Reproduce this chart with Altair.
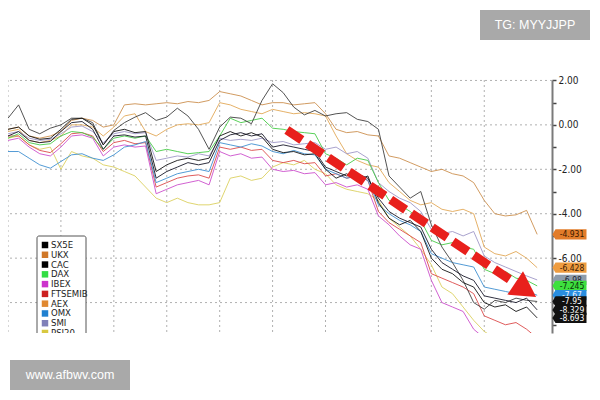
import altair as alt
import pandas as pd

# time index (one vertical grid line every 10 steps)
t_index = list(range(0, 101, 2))

SX5E = [-0.5, -0.3, -0.7, -0.8, -0.75, -0.3, 0.1, 0.15, -0.2, -1.1,
        -0.5, -0.45, -0.55, -0.5, -2.4, -2.1, -1.9, -1.7, -1.8, -1.7,
        -0.7, -0.45, -0.35, -0.5, -0.4, -1.0, -0.9, -1.0, -1.1, -1.2,
        -1.9, -2.1, -2.3, -2.2, -2.4, -3.3, -3.9, -4.2, -4.4, -4.6,
        -5.6, -6.2, -6.5, -6.8, -7.0, -7.7, -7.8, -7.9, -8.0, -7.8, -8.33]
CAC = [-0.2, -0.1, -0.5, -0.65, -0.6, -0.2, 0.25, 0.3, 0.0, -0.9,
       -0.3, -0.2, -0.35, -0.3, -2.1, -1.8, -1.6, -1.5, -1.6, -1.5,
       -0.5, -0.3, -0.5, -0.35, -0.55, -1.1, -1.25, -1.2, -1.35, -1.3,
       -2.0, -2.4, -2.2, -2.5, -2.3, -3.5, -4.2, -4.5, -4.3, -4.8,
       -6.0, -6.5, -6.7, -7.1, -7.3, -8.0, -8.2, -8.1, -8.4, -8.2, -8.69]
ATX = [0.3, 0.9, -0.2, -0.4, -0.15, 0.0, 0.3, 0.3, 0.1, -0.9,
       -0.25, 0.1, 0.35, 0.55, 0.2, 0.35, 0.75, 0.4, -0.2, -1.1,
       -0.1, 0.35, 0.3, 0.05, 1.1, 1.85, 1.45, 0.8, 0.45, 0.65,
       0.4, 0.5, 0.55, 0.25, 0.15, -0.2, -2.3, -2.8, -3.3, -3.0,
       -4.5, -5.5, -6.2, -7.0, -8.0, -8.3, -7.9, -8.0, -7.8, -7.9, -7.95]
DAX = [-0.6, -0.4, -0.8, -0.9, -0.85, -0.5, -0.3, -0.35, -0.55, -1.1,
       -0.6, -0.5, -0.6, -0.5, -1.2, -1.1, -1.2, -1.3, -1.25, -1.2,
       -0.5, 0.3, 0.1, 0.2, 0.3, -0.15, -0.2, -0.3, -0.35, -0.4,
       -1.3, -1.5, -1.8, -1.5, -1.6, -2.6, -3.4, -3.6, -3.9, -4.3,
       -5.2, -5.4, -5.3, -5.5, -5.6, -6.5, -6.7, -6.6, -6.9, -7.0, -7.25]
OMX = [-1.2, -1.2, -1.5, -1.8, -1.95, -1.65, -1.35, -1.3, -1.5, -1.6,
       -1.35, -1.0, -0.9, -0.75, -2.6, -2.4, -2.2, -2.1, -2.0, -2.1,
       -0.8, -0.9, -1.0, -0.85, -0.95, -1.2, -1.3, -1.15, -1.3, -1.35,
       -2.0, -2.2, -2.4, -2.3, -2.5, -3.6, -4.0, -4.3, -4.5, -4.8,
       -5.8, -6.0, -6.2, -6.3, -6.4, -7.3, -7.4, -7.5, -7.6, -7.5, -7.67]
IBEX = [-0.7, -0.6, -1.0, -1.3, -1.4, -1.0, -0.5, -0.45, -0.6, -1.4,
        -1.0, -0.9, -1.0, -0.95, -3.1, -2.9, -2.7, -2.6, -2.5, -2.7,
        -1.2, -1.4, -1.3, -1.5, -1.45, -2.0, -2.1, -2.05, -2.2, -2.15,
        -2.7, -2.6, -2.8, -2.7, -2.9, -4.1, -4.5, -5.0, -5.4, -5.6,
        -7.0, -8.0, -8.2, -8.4, -9.2, -9.6, -9.5, -9.7, -9.4, -9.6, -9.9]
FTSEMIB = [-0.5, -0.5, -0.9, -1.15, -1.25, -0.85, -0.4, -0.35, -0.5, -1.2,
           -0.8, -0.7, -0.85, -0.8, -2.8, -2.6, -2.4, -2.3, -2.25, -2.4,
           -1.0, -1.1, -1.0, -1.15, -1.1, -1.6, -1.7, -1.6, -1.75, -1.7,
           -2.3, -2.2, -2.4, -2.3, -2.5, -3.9, -4.4, -4.7, -5.0, -5.3,
           -6.7, -6.9, -7.1, -7.3, -7.6, -8.6, -8.8, -9.0, -8.9, -9.2, -9.6]
SMI = [-0.4, -0.3, -0.6, -0.7, -0.65, -0.4, -0.1, -0.05, -0.3, -0.8,
       -0.4, -0.3, -0.4, -0.35, -1.6, -1.5, -1.4, -1.45, -1.3, -1.4,
       -0.6, -0.7, -0.65, -0.7, -0.6, -0.8, -0.75, -0.9, -0.85, -0.8,
       -1.1, -1.0, -1.3, -1.2, -1.5, -2.6, -3.0, -3.3, -3.5, -3.9,
       -4.7, -4.9, -4.8, -5.0, -4.8, -5.9, -6.2, -6.4, -6.6, -6.8, -6.98]
PSI20 = [-0.6, -0.5, -0.9, -1.1, -1.0, -2.0, -1.2, -1.4, -1.5, -1.8,
         -1.9, -2.1, -2.3, -2.8, -3.3, -3.5, -3.3, -3.5, -3.6, -3.6,
         -3.5, -2.4, -2.3, -2.5, -2.4, -1.9, -1.7, -1.8, -1.6, -2.0,
         -2.2, -2.7, -2.9, -3.0, -3.1, -3.4, -4.2, -4.6, -5.0, -5.6,
         -6.3, -7.3, -7.6, -8.2, -8.8, -9.3, -9.6, -9.8, -9.7, -9.9, -10.1]
UKX = [-0.2, -0.1, -0.5, -0.6, -0.5, -0.3, 0.2, 0.3, 0.2, -0.1,
       0.0, 0.9, 0.95, 0.9, 0.95, 1.0, 0.95, 1.05, 1.0, 1.1,
       1.5, 1.4, 1.3, 1.1, 0.9, 1.0, 1.0, 0.9, 0.95, 1.0,
       0.5, -0.2, -0.35, -0.3, -0.45, -0.5, -1.4, -1.5, -1.7, -1.9,
       -2.1, -2.0, -2.2, -2.3, -2.6, -3.4, -4.0, -4.1, -4.05, -3.85, -4.93]
AEX = [-0.3, -0.2, -0.7, -0.8, -0.7, -0.5, 0.0, 0.0, -0.1, -0.5,
       -0.1, 0.4, 0.5, -0.3, -0.5, -0.2, 0.0, 0.05, 0.0, 0.1,
       1.0, 0.9, 0.7, 0.6, 0.5, 0.7, 0.6, 0.5, 0.55, 0.5,
       0.4, -0.5, -1.3, -1.6, -1.8, -1.9, -2.6, -3.0, -3.4, -3.6,
       -3.5, -3.8, -3.9, -3.8, -4.0, -5.5, -5.8, -5.9, -5.7, -6.0, -6.43]

# drawing order (first drawn at the bottom)
draw_names = ["PSI20", "AEX", "UKX", "SMI", "FTSEMIB", "IBEX", "OMX", "DAX", "ATX", "CAC", "SX5E"]
draw_values = [PSI20, AEX, UKX, SMI, FTSEMIB, IBEX, OMX, DAX, ATX, CAC, SX5E]
draw_colors = ["#dcd060", "#e2a858", "#cc9050", "#a098c8", "#dc4a4a", "#cc50cc",
               "#4090d0", "#48cc48", "#404040", "#151515", "#1a1a2a"]

legend_names = ["SX5E", "UKX", "CAC", "DAX", "IBEX", "FTSEMIB", "AEX", "OMX", "SMI", "PSI20"]
legend_colors = ["#000000", "#d07828", "#000000", "#33dd44", "#cc33cc", "#cc2020",
                 "#e08830", "#2080d0", "#8080b8", "#d8c840"]

# end-value tags on the right axis
tag_values = [-4.931, -6.428, -6.98, -7.245, -7.67, -7.95, -8.329, -8.693]
tag_texts = ["-4.931", "-6.428", "-6.98", "-7.245", "-7.67", "-7.95", "-8.329", "-8.693"]
tag_fills = ["#e27c2a", "#ee9c40", "#8e9cab", "#3ee03e", "#2a8ee0", "#111111", "#111111", "#111111"]
tag_text_colors = ["#3a1800", "#3a1800", "#1a2430", "#0a300a", "#eaf4ff", "#ffffff", "#ffffff", "#ffffff"]

grid_t = [0, 10, 20, 30, 40, 50, 60, 70, 80, 90]
grid_v = [2, 0, -2, -4, -6, -8]
tick_vals = [2, 1, 0, -1, -2, -3, -4, -5, -6, -7, -8, -9]

# arrow (start / end of the trend annotation, in data units)
arrow_start = (52.7, -0.23)
arrow_end = (95.8, -7.12)
arrow_head = (97.6, -7.40)

FONT = "'DejaVu Sans Condensed', 'Liberation Sans Narrow', 'Liberation Sans', sans-serif"

xs = alt.Scale(domain=[0, 102.8], nice=False, zero=False)
ys = alt.Scale(domain=[-9.37, 2.02], nice=False, zero=False)

rows = []
for name, vals in zip(draw_names, draw_values):
    for t, v in zip(t_index, vals):
        rows.append({"series": name, "t": t, "v": v})
df = pd.DataFrame(rows)

hgrid = alt.Chart(pd.DataFrame({"v": grid_v})).mark_rule(
    color="#b0b0b0", strokeDash=[2, 3], strokeWidth=1
).encode(y=alt.Y("v:Q", scale=ys, axis=None))

vgrid = alt.Chart(pd.DataFrame({"t": grid_t})).mark_rule(
    color="#b0b0b0", strokeDash=[2, 3], strokeWidth=1
).encode(x=alt.X("t:Q", scale=xs, axis=None))

lines = alt.Chart(df).mark_line(clip=True, strokeWidth=1, opacity=0.9).encode(
    x=alt.X("t:Q", scale=xs, axis=None),
    y=alt.Y("v:Q", scale=ys, axis=alt.Axis(
        orient="right", values=tick_vals, title=None, grid=False,
        labelExpr="datum.value % 2 == 0 ? replace(format(datum.value, '.2f'), '\u2212', '-') : ''",
        domainColor="#7a7a7a", domainWidth=2, tickColor="#444444", tickSize=4, tickWidth=1.5,
        labelColor="#222222", labelFont=FONT, labelFontSize=10, labelPadding=2)),
    color=alt.Color("series:N", scale=alt.Scale(domain=draw_names, range=draw_colors), legend=None),
)

# manual legend (clipped by the plot bottom like the original)
leg_df = pd.DataFrame({"name": legend_names, "color": legend_colors})
leg_y = alt.Y("name:N", scale=alt.Scale(type="point", domain=legend_names, range=[165, 253], padding=0), axis=None)
leg_box = alt.Chart(pd.DataFrame({"a": [0]})).mark_rect(
    fill="white", stroke="#555555", strokeWidth=1, cornerRadius=2, clip=True
).encode(x=alt.value(29), x2=alt.value(78), y=alt.value(156), y2=alt.value(275))
leg_sw = alt.Chart(leg_df).mark_square(size=42, opacity=1, clip=True).encode(
    x=alt.value(37), y=leg_y, color=alt.Color("color:N", scale=None))
leg_tx = alt.Chart(leg_df).mark_text(
    align="left", baseline="middle", fontSize=9.5, font=FONT, color="#222222", clip=True
).encode(x=alt.value(43), y=leg_y, text="name:N")

arrow_df = pd.DataFrame({"t": [arrow_start[0]], "v": [arrow_start[1]],
                         "t2": [arrow_end[0]], "v2": [arrow_end[1]]})
arrow_line = alt.Chart(arrow_df).mark_rule(
    color="#e8201c", strokeWidth=9, strokeDash=[18, 7], strokeCap="butt"
).encode(x=alt.X("t:Q", scale=xs, axis=None), y=alt.Y("v:Q", scale=ys, axis=None),
         x2="t2:Q", y2="v2:Q")
arrow_tip = alt.Chart(pd.DataFrame({"t": [arrow_head[0]], "v": [arrow_head[1]]})).mark_point(
    shape="M-0.8,-1L1,0L-0.8,1Z", filled=True, color="#e8201c", opacity=1, size=784, angle=34
).encode(x=alt.X("t:Q", scale=xs, axis=None), y=alt.Y("v:Q", scale=ys, axis=None))

tag_layers = []
for val, txt, fill, tcol in zip(tag_values, tag_texts, tag_fills, tag_text_colors):
    d = pd.DataFrame({"v": [val], "label": [txt]})
    box = alt.Chart(d).mark_point(
        shape="M-1.2,0L-1,-0.33L1,-0.33L1,0.33L-1,0.33Z", filled=True, fill=fill,
        opacity=1, size=961, strokeWidth=0
    ).encode(x=alt.value(563), y=alt.Y("v:Q", scale=ys, axis=None))
    tx = alt.Chart(d).mark_text(
        align="center", baseline="middle", fontSize=8.5, font=FONT, color=tcol
    ).encode(x=alt.value(564), y=alt.Y("v:Q", scale=ys, axis=None), text="label:N")
    tag_layers += [box, tx]

one = pd.DataFrame({"a": [0]})
wm1_box = alt.Chart(one).mark_rect(fill="#a9a9a9").encode(
    x=alt.value(472), x2=alt.value(582), y=alt.value(-70), y2=alt.value(-40))
wm1_tx = alt.Chart(one).mark_text(
    text="TG: MYYJJPP", color="white", fontSize=12.5, font="Liberation Sans", align="center", baseline="middle"
).encode(x=alt.value(527), y=alt.value(-55))
wm2_box = alt.Chart(one).mark_rect(fill="#a9a9a9").encode(
    x=alt.value(2), x2=alt.value(122), y=alt.value(280), y2=alt.value(310))
wm2_tx = alt.Chart(one).mark_text(
    text="www.afbwv.com", color="white", fontSize=12.5, font="Liberation Sans", align="center", baseline="middle"
).encode(x=alt.value(62), y=alt.value(295))

chart = alt.layer(
    hgrid, vgrid, lines, leg_box, leg_sw, leg_tx, arrow_line, arrow_tip,
    *tag_layers, wm1_box, wm1_tx, wm2_box, wm2_tx
).resolve_scale(y="independent").properties(
    width=544, height=253,
    autosize=alt.AutoSizeParams(type="none"),
    padding={"left": 0, "top": 72, "right": 40, "bottom": 59},
    background="white",
).configure_view(stroke=None)

chart.save("out.html", embed_options={"renderer": "svg", "actions": False})
